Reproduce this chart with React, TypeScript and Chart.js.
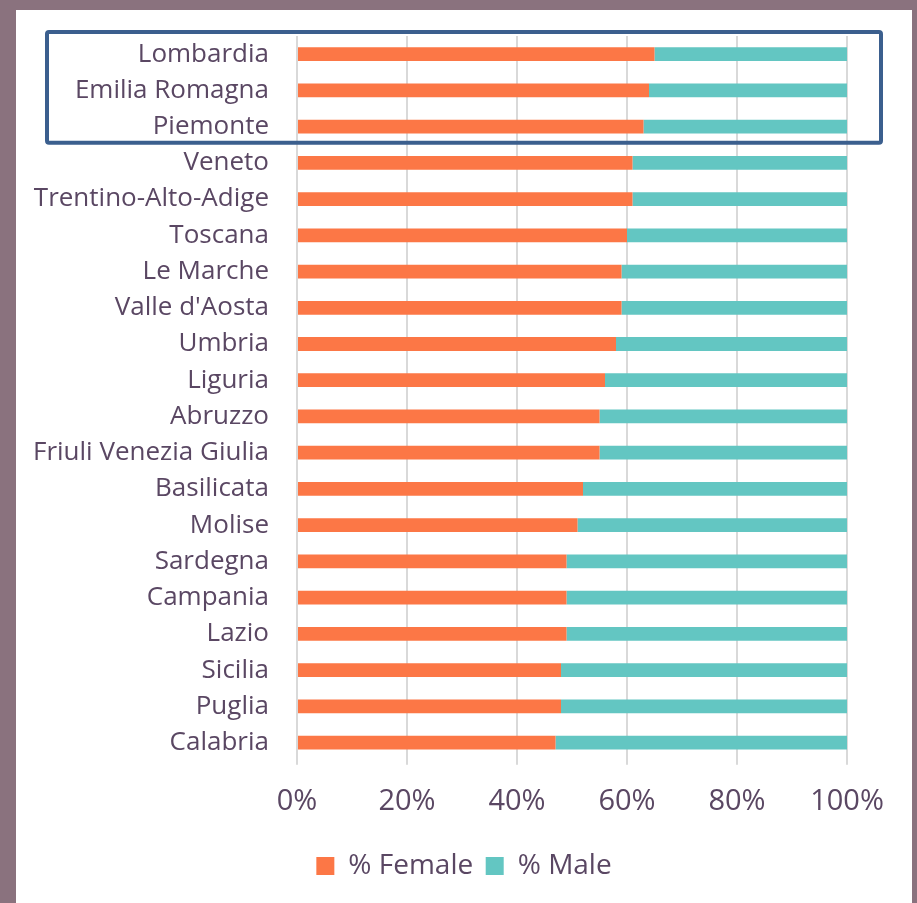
import React, { useEffect, useRef } from "react";
import { Chart, registerables } from "chart.js";

Chart.register(...registerables);

const regions = [
  "Lombardia", "Emilia Romagna", "Piemonte", "Veneto", "Trentino-Alto-Adige",
  "Toscana", "Le Marche", "Valle d'Aosta", "Umbria", "Liguria", "Abruzzo",
  "Friuli Venezia Giulia", "Basilicata", "Molise", "Sardegna", "Campania",
  "Lazio", "Sicilia", "Puglia", "Calabria",
];
const femalePct = [65, 64, 63, 61, 61, 60, 59, 59, 58, 56, 55, 55, 52, 51, 49, 49, 49, 48, 48, 47];
const malePct = femalePct.map((f) => 100 - f);
const xTicks = [0, 20, 40, 60, 80, 100];
const highlighted = [0, 2]; // first and last highlighted category index

const TEXT = "#5A4763";
const FONT = "'Open Sans', sans-serif";

const highlightPlugin = {
  id: "highlightBox",
  afterDraw(chart: any) {
    const y = chart.scales.y;
    const area = chart.chartArea;
    const step = Math.abs(y.getPixelForValue(1) - y.getPixelForValue(0));
    const top = y.getPixelForValue(highlighted[0]) - step / 2 - 4;
    const bottom = y.getPixelForValue(highlighted[1]) + step / 2 - 2;
    const left = area.left - 250;
    const right = area.right + 34;
    const ctx = chart.ctx;
    ctx.save();
    ctx.strokeStyle = "#3B5F8E";
    ctx.lineWidth = 4;
    ctx.beginPath();
    const r = 2;
    ctx.moveTo(left + r, top);
    ctx.lineTo(right - r, top);
    ctx.quadraticCurveTo(right, top, right, top + r);
    ctx.lineTo(right, bottom - r);
    ctx.quadraticCurveTo(right, bottom, right - r, bottom);
    ctx.lineTo(left + r, bottom);
    ctx.quadraticCurveTo(left, bottom, left, bottom - r);
    ctx.lineTo(left, top + r);
    ctx.quadraticCurveTo(left, top, left + r, top);
    ctx.stroke();
    ctx.restore();
  },
};

export default function App() {
  const ref = useRef<HTMLCanvasElement>(null);

  useEffect(() => {
    document.body.style.margin = "0";
    const chart = new Chart(ref.current!, {
      type: "bar",
      data: {
        labels: regions,
        datasets: [
          {
            label: "% Female",
            data: femalePct,
            backgroundColor: "#FC7746",
            barPercentage: 0.38,
            categoryPercentage: 1,
          },
          {
            label: "% Male",
            data: malePct,
            backgroundColor: "#63C6C2",
            barPercentage: 0.38,
            categoryPercentage: 1,
          },
        ],
      },
      options: {
        indexAxis: "y",
        animation: false,
        responsive: false,
        maintainAspectRatio: false,
        layout: { padding: { top: 26, right: 0, left: 0, bottom: 13 } },
        scales: {
          x: {
            stacked: true,
            min: 0,
            max: 100,
            afterBuildTicks: (s: any) => {
              s.ticks = xTicks.map((v) => ({ value: v }));
            },
            afterFit: (s: any) => {
              s.paddingRight = 65;
            },
            ticks: {
              color: TEXT,
              font: { family: FONT, size: 29 },
              padding: 20,
              callback: (v: any) => v + "%",
            },
            grid: { color: "#D9D9D9", lineWidth: 2, drawTicks: true, tickLength: 4 },
            border: { display: false },
          },
          y: {
            stacked: true,
            ticks: {
              color: TEXT,
              font: { family: FONT, size: 26 },
              padding: 28,
            },
            grid: { display: false, drawTicks: false },
            border: { display: false },
            afterFit: (s: any) => {
              s.width = 281;
              s.paddingTop = 0;
              s.paddingBottom = 0;
            },
          },
        },
        plugins: {
          legend: {
            position: "bottom",
            labels: {
              color: TEXT,
              font: { family: FONT, size: 28 },
              boxWidth: 18,
              boxHeight: 18,
              padding: 12.5,
            },
          },
          tooltip: { enabled: false },
        },
      },
      plugins: [highlightPlugin],
    } as any);
    return () => chart.destroy();
  }, []);

  return (
    <div style={{ width: 917, height: 903, background: "#8A727E", position: "relative", overflow: "hidden" }}>
      <div style={{ position: "absolute", left: 16, top: 10, width: 896, height: 893, background: "#FFFFFF" }}>
        <canvas ref={ref} width={896} height={893} style={{ display: "block" }} />
      </div>
    </div>
  );
}
